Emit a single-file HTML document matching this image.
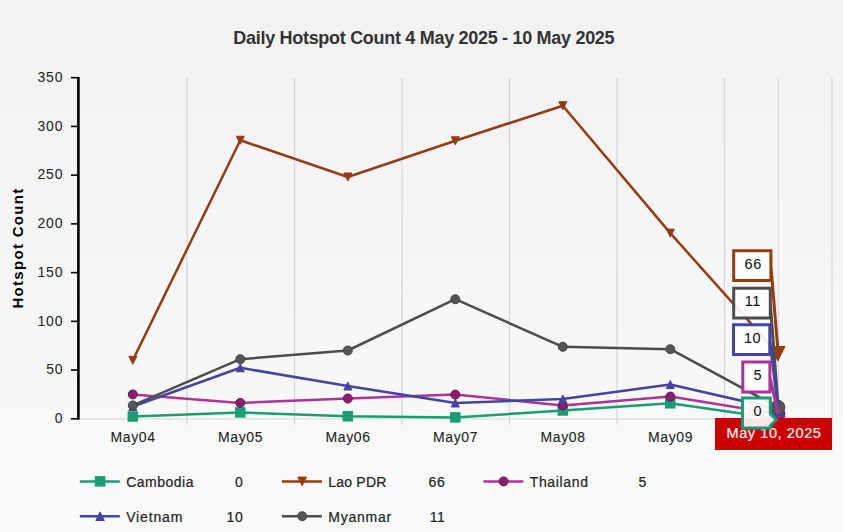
<!DOCTYPE html>
<html><head><meta charset="utf-8"><style>
html,body{margin:0;padding:0;width:843px;height:532px;overflow:hidden;}
svg{display:block;}
text{font-family:"Liberation Sans", sans-serif;}
</style></head><body>
<svg width="843" height="532" viewBox="0 0 843 532">
<defs><linearGradient id="bg" x1="0" y1="0" x2="0" y2="1">
<stop offset="0" stop-color="#f2f2f2"/><stop offset="1" stop-color="#fafafa"/></linearGradient></defs>
<rect x="0" y="0" width="843" height="532" fill="url(#bg)"/>

<text x="423.8" y="43.7" text-anchor="middle" font-size="18" font-weight="bold" fill="#333333" letter-spacing="-0.3">Daily Hotspot Count 4 May 2025 - 10 May 2025</text>
<line x1="187.0" y1="78" x2="187.0" y2="424.5" stroke="#d6d6d6" stroke-width="1.3"/>
<line x1="294.5" y1="78" x2="294.5" y2="424.5" stroke="#d6d6d6" stroke-width="1.3"/>
<line x1="402.0" y1="78" x2="402.0" y2="424.5" stroke="#d6d6d6" stroke-width="1.3"/>
<line x1="509.5" y1="78" x2="509.5" y2="424.5" stroke="#d6d6d6" stroke-width="1.3"/>
<line x1="617.0" y1="78" x2="617.0" y2="424.5" stroke="#d6d6d6" stroke-width="1.3"/>
<line x1="724.5" y1="78" x2="724.5" y2="424.5" stroke="#d6d6d6" stroke-width="1.3"/>
<line x1="832.0" y1="78" x2="832.0" y2="424.5" stroke="#d6d6d6" stroke-width="1.3"/>
<line x1="778.4" y1="78" x2="778.4" y2="418" stroke="#e2dadd" stroke-width="1.2"/>
<line x1="79.5" y1="418.8" x2="832" y2="418.8" stroke="#dcdcdc" stroke-width="1.2"/>
<line x1="79.5" y1="418.8" x2="79.5" y2="424.5" stroke="#e0e0e0" stroke-width="1"/>
<line x1="78.4" y1="77" x2="78.4" y2="419.6" stroke="#000" stroke-width="2.6"/>
<line x1="71" y1="418.80" x2="79" y2="418.80" stroke="#000" stroke-width="1.6"/>
<text x="63.50" y="423.00" text-anchor="end" font-size="14" fill="#222" letter-spacing="0.9">0</text>
<line x1="71" y1="370.07" x2="79" y2="370.07" stroke="#000" stroke-width="1.6"/>
<text x="63.50" y="374.27" text-anchor="end" font-size="14" fill="#222" letter-spacing="0.9">50</text>
<line x1="71" y1="321.34" x2="79" y2="321.34" stroke="#000" stroke-width="1.6"/>
<text x="63.50" y="325.54" text-anchor="end" font-size="14" fill="#222" letter-spacing="0.9">100</text>
<line x1="71" y1="272.61" x2="79" y2="272.61" stroke="#000" stroke-width="1.6"/>
<text x="63.50" y="276.81" text-anchor="end" font-size="14" fill="#222" letter-spacing="0.9">150</text>
<line x1="71" y1="223.88" x2="79" y2="223.88" stroke="#000" stroke-width="1.6"/>
<text x="63.50" y="228.08" text-anchor="end" font-size="14" fill="#222" letter-spacing="0.9">200</text>
<line x1="71" y1="175.15" x2="79" y2="175.15" stroke="#000" stroke-width="1.6"/>
<text x="63.50" y="179.35" text-anchor="end" font-size="14" fill="#222" letter-spacing="0.9">250</text>
<line x1="71" y1="126.42" x2="79" y2="126.42" stroke="#000" stroke-width="1.6"/>
<text x="63.50" y="130.62" text-anchor="end" font-size="14" fill="#222" letter-spacing="0.9">300</text>
<line x1="71" y1="77.70" x2="79" y2="77.70" stroke="#000" stroke-width="1.6"/>
<text x="63.50" y="81.90" text-anchor="end" font-size="14" fill="#222" letter-spacing="0.9">350</text>
<text transform="translate(23.2,248) rotate(-90)" text-anchor="middle" font-size="15" font-weight="bold" fill="#000" letter-spacing="1.3">Hotspot Count</text>
<text x="133.10" y="441.6" text-anchor="middle" font-size="14" fill="#222" stroke="#222" stroke-width="0.08" letter-spacing="0.6">May04</text>
<text x="240.60" y="441.6" text-anchor="middle" font-size="14" fill="#222" stroke="#222" stroke-width="0.08" letter-spacing="0.6">May05</text>
<text x="348.10" y="441.6" text-anchor="middle" font-size="14" fill="#222" stroke="#222" stroke-width="0.08" letter-spacing="0.6">May06</text>
<text x="455.60" y="441.6" text-anchor="middle" font-size="14" fill="#222" stroke="#222" stroke-width="0.08" letter-spacing="0.6">May07</text>
<text x="563.10" y="441.6" text-anchor="middle" font-size="14" fill="#222" stroke="#222" stroke-width="0.08" letter-spacing="0.6">May08</text>
<text x="670.60" y="441.6" text-anchor="middle" font-size="14" fill="#222" stroke="#222" stroke-width="0.08" letter-spacing="0.6">May09</text>
<polyline points="132.80,416.50 240.30,412.40 347.80,416.30 455.30,417.40 562.80,410.50 670.30,403.30 777.80,418.80" fill="none" stroke="#1a9c74" stroke-width="2.5" stroke-linejoin="round" stroke-linecap="round"/>
<rect x="128.30" y="412.00" width="9.0" height="9.0" fill="#1a9c74" stroke="#1a9c74" stroke-width="1.5"/>
<rect x="235.80" y="407.90" width="9.0" height="9.0" fill="#1a9c74" stroke="#1a9c74" stroke-width="1.5"/>
<rect x="343.30" y="411.80" width="9.0" height="9.0" fill="#1a9c74" stroke="#1a9c74" stroke-width="1.5"/>
<rect x="450.80" y="412.90" width="9.0" height="9.0" fill="#1a9c74" stroke="#1a9c74" stroke-width="1.5"/>
<rect x="558.30" y="406.00" width="9.0" height="9.0" fill="#1a9c74" stroke="#1a9c74" stroke-width="1.5"/>
<rect x="665.80" y="398.80" width="9.0" height="9.0" fill="#1a9c74" stroke="#1a9c74" stroke-width="1.5"/>
<rect x="771.30" y="412.30" width="13.0" height="13.0" fill="#1a9c74" stroke="#1a9c74" stroke-width="1.5"/>
<polyline points="132.80,360.30 240.30,140.20 347.80,177.00 455.30,140.80 562.80,105.70 670.30,233.10 777.80,353.70" fill="none" stroke="#963a10" stroke-width="2.5" stroke-linejoin="round" stroke-linecap="round"/>
<path d="M128.80,356.30 L136.80,356.30 L132.80,364.30 Z" fill="#963a10" stroke="#963a10" stroke-width="1"/>
<path d="M236.30,136.20 L244.30,136.20 L240.30,144.20 Z" fill="#963a10" stroke="#963a10" stroke-width="1"/>
<path d="M343.80,173.00 L351.80,173.00 L347.80,181.00 Z" fill="#963a10" stroke="#963a10" stroke-width="1"/>
<path d="M451.30,136.80 L459.30,136.80 L455.30,144.80 Z" fill="#963a10" stroke="#963a10" stroke-width="1"/>
<path d="M558.80,101.70 L566.80,101.70 L562.80,109.70 Z" fill="#963a10" stroke="#963a10" stroke-width="1"/>
<path d="M666.30,229.10 L674.30,229.10 L670.30,237.10 Z" fill="#963a10" stroke="#963a10" stroke-width="1"/>
<path d="M770.60,346.50 L785.00,346.50 L777.80,360.90 Z" fill="#963a10" stroke="#963a10" stroke-width="1"/>
<polyline points="132.80,394.40 240.30,402.90 347.80,398.50 455.30,394.60 562.80,405.40 670.30,396.60 777.80,413.93" fill="none" stroke="#aa3596" stroke-width="2.5" stroke-linejoin="round" stroke-linecap="round"/>
<circle cx="132.80" cy="394.40" r="4.5" fill="#8a1f6e" stroke="#66115a" stroke-width="1"/>
<circle cx="240.30" cy="402.90" r="4.5" fill="#8a1f6e" stroke="#66115a" stroke-width="1"/>
<circle cx="347.80" cy="398.50" r="4.5" fill="#8a1f6e" stroke="#66115a" stroke-width="1"/>
<circle cx="455.30" cy="394.60" r="4.5" fill="#8a1f6e" stroke="#66115a" stroke-width="1"/>
<circle cx="562.80" cy="405.40" r="4.5" fill="#8a1f6e" stroke="#66115a" stroke-width="1"/>
<circle cx="670.30" cy="396.60" r="4.5" fill="#8a1f6e" stroke="#66115a" stroke-width="1"/>
<circle cx="777.80" cy="413.93" r="7" fill="#8a1f6e" stroke="#66115a" stroke-width="1"/>
<polyline points="132.80,406.50 240.30,367.80 347.80,386.00 455.30,403.00 562.80,399.00 670.30,384.50 777.80,409.05" fill="none" stroke="#4543a3" stroke-width="2.5" stroke-linejoin="round" stroke-linecap="round"/>
<path d="M128.80,410.50 L136.80,410.50 L132.80,402.50 Z" fill="#4543a3" stroke="#4543a3" stroke-width="1"/>
<path d="M236.30,371.80 L244.30,371.80 L240.30,363.80 Z" fill="#4543a3" stroke="#4543a3" stroke-width="1"/>
<path d="M343.80,390.00 L351.80,390.00 L347.80,382.00 Z" fill="#4543a3" stroke="#4543a3" stroke-width="1"/>
<path d="M451.30,407.00 L459.30,407.00 L455.30,399.00 Z" fill="#4543a3" stroke="#4543a3" stroke-width="1"/>
<path d="M558.80,403.00 L566.80,403.00 L562.80,395.00 Z" fill="#4543a3" stroke="#4543a3" stroke-width="1"/>
<path d="M666.30,388.50 L674.30,388.50 L670.30,380.50 Z" fill="#4543a3" stroke="#4543a3" stroke-width="1"/>
<path d="M770.60,416.25 L785.00,416.25 L777.80,401.85 Z" fill="#4543a3" stroke="#4543a3" stroke-width="1"/>
<polyline points="132.80,405.40 240.30,359.20 347.80,350.50 455.30,299.20 562.80,346.80 670.30,349.20 777.80,407.20" fill="none" stroke="#4d4d4d" stroke-width="2.5" stroke-linejoin="round" stroke-linecap="round"/>
<circle cx="132.80" cy="405.40" r="4.5" fill="#555555" stroke="#444" stroke-width="1"/>
<circle cx="240.30" cy="359.20" r="4.5" fill="#555555" stroke="#444" stroke-width="1"/>
<circle cx="347.80" cy="350.50" r="4.5" fill="#555555" stroke="#444" stroke-width="1"/>
<circle cx="455.30" cy="299.20" r="4.5" fill="#555555" stroke="#444" stroke-width="1"/>
<circle cx="562.80" cy="346.80" r="4.5" fill="#555555" stroke="#444" stroke-width="1"/>
<circle cx="670.30" cy="349.20" r="4.5" fill="#555555" stroke="#444" stroke-width="1"/>
<circle cx="777.80" cy="407.20" r="7" fill="#555555" stroke="#444" stroke-width="1"/>
<rect x="715" y="418" width="117" height="32" fill="#cc0000"/>
<text x="774" y="437.8" text-anchor="middle" font-size="14.5" fill="#fff4f0" stroke="#fff4f0" stroke-width="0.2" letter-spacing="0.6">May 10, 2025</text>
<path d="M733.7,250.7 L770.9,250.7 L770.9,265.54999999999995 L778.25,354.4764 L770.9,265.54999999999995 L770.9,280.4 L733.7,280.4 Z" fill="rgba(255,255,255,0.9)" stroke="#963a10" stroke-width="3" stroke-linejoin="miter"/><text x="753.20" y="268.55" text-anchor="middle" font-size="14.5" fill="#111" stroke="#111" stroke-width="0.05" letter-spacing="0.6">66</text>
<path d="M733.7,288.3 L770.3,288.3 L770.3,303.1 L778.25,408.0794 L770.3,303.1 L770.3,317.9 L733.7,317.9 Z" fill="rgba(255,255,255,0.9)" stroke="#4d4d4d" stroke-width="3" stroke-linejoin="miter"/><text x="752.90" y="306.10" text-anchor="middle" font-size="14.5" fill="#111" stroke="#111" stroke-width="0.05" letter-spacing="0.6">11</text>
<path d="M733.5,324.8 L769.8,324.8 L769.8,339.65 L778.25,409.05400000000003 L769.8,339.65 L769.8,354.5 L733.5,354.5 Z" fill="rgba(255,255,255,0.9)" stroke="#4543a3" stroke-width="3" stroke-linejoin="miter"/><text x="752.55" y="342.65" text-anchor="middle" font-size="14.5" fill="#111" stroke="#111" stroke-width="0.05" letter-spacing="0.6">10</text>
<path d="M742.8,362.0 L769.9,362.0 L769.9,377.05 L778.25,413.927 L769.9,377.05 L769.9,392.1 L742.8,392.1 Z" fill="rgba(255,255,255,0.9)" stroke="#aa3596" stroke-width="3" stroke-linejoin="miter"/><text x="757.85" y="380.05" text-anchor="middle" font-size="14.5" fill="#111" stroke="#111" stroke-width="0.05" letter-spacing="0.6">5</text>
<path d="M742.5,398.0 L770.3,398.0 L770.3,413.8 L776.3,419.8 L770.3,425.8 L770.3,428.0 L742.5,428.0 Z" fill="rgba(255,255,255,0.9)" stroke="#1a9c74" stroke-width="3" stroke-linejoin="miter"/><text x="757.90" y="416.00" text-anchor="middle" font-size="14.5" fill="#111" stroke="#111" stroke-width="0.05" letter-spacing="0.6">0</text>
<line x1="79.8" y1="481.4" x2="119.8" y2="481.4" stroke="#1a9c74" stroke-width="2.5"/><rect x="95.60" y="476.90" width="9.0" height="9.0" fill="#1a9c74" stroke="#1a9c74" stroke-width="1.5"/><text x="126.19999999999999" y="486.79999999999995" font-size="14" fill="#222" stroke="#222" stroke-width="0.2" letter-spacing="0.5">Cambodia</text><text x="243.2" y="486.79999999999995" text-anchor="end" font-size="14" fill="#222" stroke="#222" stroke-width="0.2" letter-spacing="0.5">0</text>
<line x1="281.9" y1="481.4" x2="321.9" y2="481.4" stroke="#963a10" stroke-width="2.5"/><path d="M297.90,477.10 L306.50,477.10 L302.20,485.70 Z" fill="#963a10" stroke="#963a10" stroke-width="1"/><text x="328.29999999999995" y="486.79999999999995" font-size="14" fill="#222" stroke="#222" stroke-width="0.2" letter-spacing="0.2">Lao PDR</text><text x="445.2" y="486.79999999999995" text-anchor="end" font-size="14" fill="#222" stroke="#222" stroke-width="0.2" letter-spacing="0.5">66</text>
<line x1="483.3" y1="481.4" x2="523.3" y2="481.4" stroke="#aa3596" stroke-width="2.5"/><circle cx="503.60" cy="481.40" r="4.5" fill="#8a1f6e" stroke="#66115a" stroke-width="1"/><text x="529.7" y="486.79999999999995" font-size="14" fill="#222" stroke="#222" stroke-width="0.2" letter-spacing="0.65">Thailand</text><text x="646.8" y="486.79999999999995" text-anchor="end" font-size="14" fill="#222" stroke="#222" stroke-width="0.2" letter-spacing="0.5">5</text>
<line x1="79.8" y1="516.2" x2="119.8" y2="516.2" stroke="#4543a3" stroke-width="2.5"/><path d="M95.80,520.50 L104.40,520.50 L100.10,511.90 Z" fill="#4543a3" stroke="#4543a3" stroke-width="1"/><text x="126.19999999999999" y="521.6" font-size="14" fill="#222" stroke="#222" stroke-width="0.2" letter-spacing="0.85">Vietnam</text><text x="243.2" y="521.6" text-anchor="end" font-size="14" fill="#222" stroke="#222" stroke-width="0.2" letter-spacing="0.5">10</text>
<line x1="281.9" y1="516.2" x2="321.9" y2="516.2" stroke="#4d4d4d" stroke-width="2.5"/><circle cx="302.20" cy="516.20" r="4.5" fill="#555555" stroke="#444" stroke-width="1"/><text x="328.29999999999995" y="521.6" font-size="14" fill="#222" stroke="#222" stroke-width="0.2" letter-spacing="0.75">Myanmar</text><text x="445.2" y="521.6" text-anchor="end" font-size="14" fill="#222" stroke="#222" stroke-width="0.2" letter-spacing="0.5">11</text>
</svg></body></html>
